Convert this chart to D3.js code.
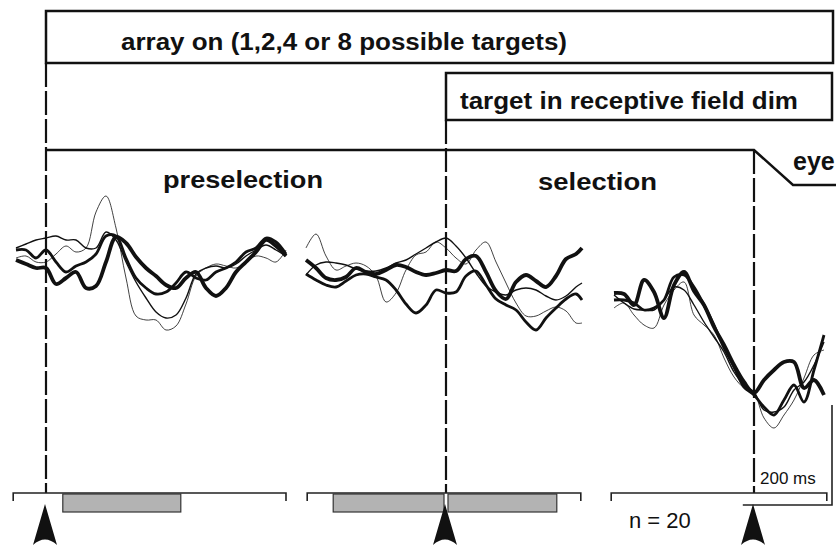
<!DOCTYPE html>
<html>
<head>
<meta charset="utf-8">
<script src="https://cdn.jsdelivr.net/npm/d3@7"></script>
<style>
  body { margin: 0; background: #fff; }
  text { font-family: "Liberation Sans Narrow", "Liberation Sans", Arial, sans-serif; fill: #111; }
</style>
</head>
<body>
<div id="chart-container"></div>
<script>
// time bins (ms, aligned on each event) and normalised activity per condition
const leftTime = [-75, -50, -25, 0, 25, 50, 75, 100, 125, 150, 175, 200, 225, 250, 275, 300, 325, 350, 375, 400, 425, 450, 475, 500, 525, 550, 575, 600];
const leftA = [-0.05, -0.09, -0.13, -0.13, -0.29, -0.23, -0.17, -0.33, -0.31, -0.07, 0.18, 0.12, -0.02, -0.13, -0.21, -0.30, -0.33, -0.23, -0.17, -0.33, -0.41, -0.33, -0.17, -0.07, 0.03, 0.15, 0.09, -0.01];
const leftB = [0.05, 0.05, -0.03, 0.05, -0.07, -0.17, -0.11, -0.07, 0.01, 0.19, 0.19, -0.03, -0.23, -0.33, -0.39, -0.37, -0.28, -0.17, -0.23, -0.25, -0.17, -0.13, -0.07, 0.03, 0.07, 0.17, 0.13, 0.01];
const leftC = [0.07, 0.11, 0.15, 0.17, 0.19, 0.15, 0.15, 0.07, 0.07, 0.23, 0.15, -0.07, -0.27, -0.43, -0.57, -0.63, -0.60, -0.43, -0.19, -0.13, -0.11, -0.13, -0.09, -0.01, 0.05, 0.10, 0.05, -0.01];
const leftD = [-0.03, -0.01, -0.07, -0.07, 0.01, 0.09, 0.03, 0.07, 0.43, 0.59, 0.27, -0.23, -0.61, -0.65, -0.65, -0.75, -0.71, -0.49, -0.21, -0.13, -0.09, -0.11, -0.13, -0.07, -0.01, -0.03, -0.07, 0.05];

const midTime = [-350, -325, -300, -275, -250, -225, -200, -175, -150, -125, -100, -75, -50, -25, 0, 25, 50, 75, 100, 125, 150, 175, 200, 225, 250, 275, 300, 325, 340];
const midA = [-0.05, -0.13, -0.23, -0.25, -0.22, -0.13, -0.17, -0.19, -0.15, -0.10, -0.12, -0.17, -0.20, -0.18, -0.15, -0.16, -0.04, -0.01, -0.17, -0.36, -0.44, -0.27, -0.20, -0.26, -0.32, -0.21, -0.04, 0.01, 0.07];
const midB = [-0.19, -0.25, -0.30, -0.32, -0.26, -0.20, -0.19, -0.22, -0.25, -0.35, -0.49, -0.58, -0.50, -0.35, -0.38, -0.37, -0.21, -0.16, -0.30, -0.44, -0.50, -0.55, -0.67, -0.75, -0.63, -0.53, -0.44, -0.39, -0.45];
const midC = [-0.20, -0.10, -0.07, -0.08, -0.10, -0.14, -0.16, -0.16, -0.13, -0.08, -0.05, 0.01, 0.07, 0.13, 0.17, 0.09, -0.03, -0.18, -0.31, -0.37, -0.40, -0.35, -0.33, -0.35, -0.41, -0.45, -0.41, -0.32, -0.28];
const midD = [0.07, 0.21, -0.01, -0.15, -0.11, -0.08, -0.11, -0.21, -0.47, -0.38, -0.15, 0.00, 0.03, 0.13, 0.07, -0.03, -0.09, 0.05, 0.13, -0.07, -0.28, -0.48, -0.61, -0.61, -0.56, -0.52, -0.56, -0.68, -0.68];

const rightTime = [-350, -325, -300, -275, -250, -225, -200, -175, -150, -125, -100, -75, -50, -25, 0, 25, 50, 75, 100, 125, 150, 175];
const rightA = [-0.38, -0.39, -0.50, -0.25, -0.37, -0.63, -0.30, -0.17, -0.36, -0.50, -0.72, -0.90, -1.10, -1.27, -1.38, -1.25, -1.15, -1.07, -1.07, -1.33, -1.25, -1.40];
const rightB = [-0.45, -0.45, -0.48, -0.55, -0.53, -0.45, -0.22, -0.20, -0.32, -0.50, -0.70, -0.93, -1.12, -1.32, -1.40, -1.52, -1.60, -1.45, -1.30, -1.47, -1.15, -0.80];
const rightC = [-0.40, -0.48, -0.54, -0.55, -0.55, -0.45, -0.32, -0.35, -0.50, -0.67, -0.82, -0.97, -1.17, -1.30, -1.37, -1.55, -1.57, -1.52, -1.35, -1.27, -1.10, -0.87];
const rightD = [-0.53, -0.48, -0.60, -0.70, -0.73, -0.50, -0.35, -0.27, -0.60, -0.70, -0.80, -1.03, -1.22, -1.33, -1.38, -1.63, -1.73, -1.60, -1.45, -1.23, -1.00, -0.95];

// epoch spans and analysis windows (ms)
const leftSpan = [-82, 600];
const midSpan = [-347, 337];
const rightSpan = [-357, 182];
const leftWindows = [[42, 337]];
const midWindows = [[-282, -5], [5, 277]];

const lineWidths = [3.8, 2.8, 1.4, 0.8];

const width = 836, height = 545;
const pxPerMs = 0.4;

const svg = d3.select('#chart-container')
  .append('svg')
  .attr('width', width)
  .attr('height', height);

const y = d3.scaleLinear().domain([-1, 1]).range([355, 155]);

const panels = [
  { event: 46, time: leftTime, series: [leftA, leftB, leftC, leftD], span: leftSpan, windows: leftWindows },
  { event: 446, time: midTime, series: [midA, midB, midC, midD], span: midSpan, windows: midWindows },
  { event: 754, time: rightTime, series: [rightA, rightB, rightC, rightD], span: rightSpan, windows: [] }
];
panels.forEach(p => {
  p.x = d3.scaleLinear().domain([0, 1000]).range([p.event, p.event + 1000 * pxPerMs]);
});

// header boxes
svg.append('rect')
  .attr('x', 46).attr('y', 11).attr('width', 787).attr('height', 52)
  .attr('fill', 'none').attr('stroke', '#111').attr('stroke-width', 2.5);
svg.append('text')
  .attr('x', 121).attr('y', 50)
  .attr('font-size', 23).attr('font-weight', 'bold')
  .attr('textLength', 446).attr('lengthAdjust', 'spacingAndGlyphs')
  .text('array on (1,2,4 or 8 possible targets)');

svg.append('rect')
  .attr('x', 446).attr('y', 73).attr('width', 386).attr('height', 47)
  .attr('fill', 'none').attr('stroke', '#111').attr('stroke-width', 2.5);
svg.append('text')
  .attr('x', 460).attr('y', 109)
  .attr('font-size', 23).attr('font-weight', 'bold')
  .attr('textLength', 338).attr('lengthAdjust', 'spacingAndGlyphs')
  .text('target in receptive field dim');

// epoch line with the saccade step
svg.append('path')
  .attr('d', 'M46,150 L754,150 L793,185 L836,185')
  .attr('fill', 'none').attr('stroke', '#111').attr('stroke-width', 2.5);

svg.append('text').attr('x', 163).attr('y', 188)
  .attr('font-size', 24).attr('font-weight', 'bold')
  .attr('textLength', 160).attr('lengthAdjust', 'spacingAndGlyphs')
  .text('preselection');
svg.append('text').attr('x', 538).attr('y', 190)
  .attr('font-size', 24).attr('font-weight', 'bold')
  .attr('textLength', 119).attr('lengthAdjust', 'spacingAndGlyphs')
  .text('selection');
svg.append('text').attr('x', 793).attr('y', 170)
  .attr('font-size', 25).attr('font-weight', 'bold')
  .text('eye');

// event markers (dashed)
const eventTops = [63, 120, 150];
panels.forEach((p, i) => {
  svg.append('line')
    .attr('x1', p.x(0)).attr('x2', p.x(0))
    .attr('y1', eventTops[i]).attr('y2', 493)
    .attr('stroke', '#111').attr('stroke-width', 2.2)
    .attr('stroke-dasharray', '24,4');
});

// traces
const line = d3.line()
  .x(d => d[0])
  .y(d => y(d[1]))
  .curve(d3.curveCatmullRom.alpha(0.5));

panels.forEach(p => {
  p.series.forEach((vals, k) => {
    const pts = vals.map((v, j) => [p.x(p.time[j]), v]);
    svg.append('path')
      .datum(pts)
      .attr('d', line)
      .attr('fill', 'none')
      .attr('stroke', '#111')
      .attr('stroke-width', lineWidths[k])
      .attr('stroke-linejoin', 'round');
  });
});

// epoch brackets and analysis windows
panels.forEach(p => {
  const x0 = p.x(p.span[0]), x1 = p.x(p.span[1]);
  svg.append('path')
    .attr('d', `M${x0},501 L${x0},493 L${x1},493 L${x1},501`)
    .attr('fill', 'none').attr('stroke', '#222').attr('stroke-width', 1.6);
  p.windows.forEach(w => {
    svg.append('rect')
      .attr('x', p.x(w[0])).attr('y', 494)
      .attr('width', p.x(w[1]) - p.x(w[0])).attr('height', 18)
      .attr('fill', '#b3b3b3').attr('stroke', '#333').attr('stroke-width', 1.2);
  });
});

// scale bar (200 ms)
const r = panels[2];
svg.append('path')
  .attr('d', `M${r.x(-28)},505 L${r.x(195)},505 L${r.x(195)},405`)
  .attr('fill', 'none').attr('stroke', '#222').attr('stroke-width', 1.6);
svg.append('text').attr('x', 760).attr('y', 484)
  .attr('font-size', 17)
  .text('200 ms');
svg.append('text').attr('x', 629).attr('y', 528)
  .attr('font-size', 22)
  .text('n = 20');

// arrowheads under each event
panels.forEach(p => {
  const cx = p.x(0) - 1;
  svg.append('path')
    .attr('d', `M${cx},504 L${cx + 12},545 Q${cx},534 ${cx - 12},545 Z`)
    .attr('fill', '#111');
});
</script>
</body>
</html>
